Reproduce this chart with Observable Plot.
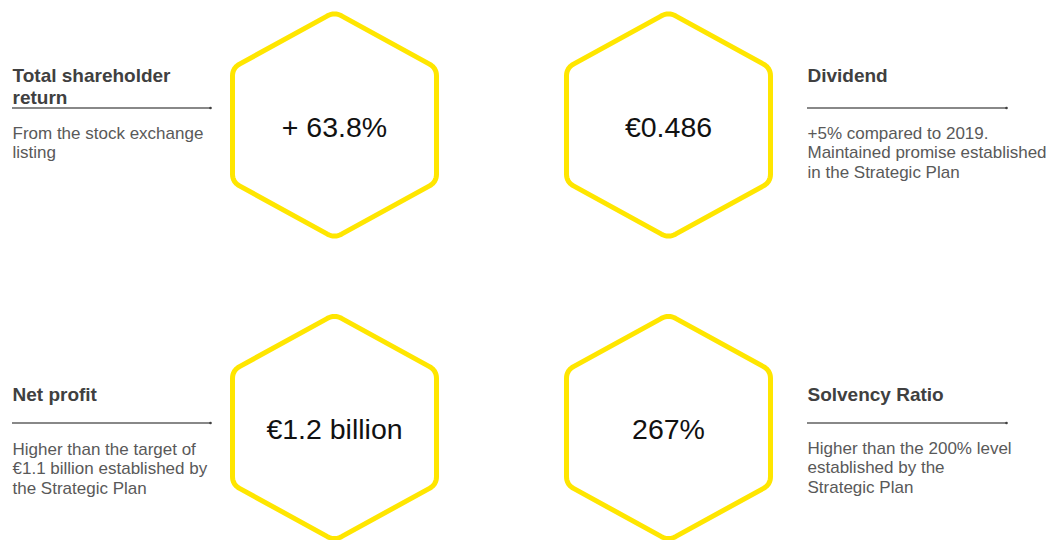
<!DOCTYPE html>
<html>
<head>
<meta charset="utf-8">
<script src="https://cdn.jsdelivr.net/npm/d3@7"></script>
<script src="https://cdn.jsdelivr.net/npm/@observablehq/plot@0.6"></script>
<style>
  html, body { margin: 0; padding: 0; background: #fff; }
  #chart svg { display: block; }
</style>
</head>
<body>
<div id="chart"></div>
<script>
// ---- data ----
const titles = ["Total shareholder\nreturn", "Dividend", "Net profit", "Solvency Ratio"];
const values = ["+ 63.8%", "€0.486", "€1.2 billion", "267%"];
const notes = [
  "From the stock exchange\nlisting",
  "+5% compared to 2019.\nMaintained promise established\nin the Strategic Plan",
  "Higher than the target of\n€1.1 billion established by\nthe Strategic Plan",
  "Higher than the 200% level\nestablished by the\nStrategic Plan"
];

// ---- layout (pixels) ----
const W = 1048, H = 540;
const hexCx = [334, 668, 334, 668];
const hexCy = [124.5, 124.5, 427, 427];
const hexHalfW = 102, hexHalfH = 113, hexHalfSide = 57, cornerR = 8;
const textX = [12, 807, 12, 807];
const ruleX2 = [210, 1006, 210, 1006];
const titleBase = [81, 81, 400, 400];
const ruleYs = [107.5, 107.5, 422.5, 422.5];
const noteBase = [138, 138, 454, 453];
const valueDy = 11.5;
const titleSize = 19, noteSize = 17, valueSize = 28.5;
const titleLH = 22.5, noteLH = 19.8;

const yellow = "#FFE600";
const font = "Arial, 'Liberation Sans', sans-serif";

// rounded hexagon outlines
function hexPoints(cx, cy, k) {
  const v = [
    [cx, cy - hexHalfH], [cx + hexHalfW, cy - hexHalfSide], [cx + hexHalfW, cy + hexHalfSide],
    [cx, cy + hexHalfH], [cx - hexHalfW, cy + hexHalfSide], [cx - hexHalfW, cy - hexHalfSide]
  ];
  const pts = [];
  const n = v.length;
  for (let i = 0; i < n; i++) {
    const P = v[(i + n - 1) % n], V = v[i], N = v[(i + 1) % n];
    const lp = Math.hypot(P[0] - V[0], P[1] - V[1]);
    const ln = Math.hypot(N[0] - V[0], N[1] - V[1]);
    const A = [V[0] + (P[0] - V[0]) * cornerR / lp, V[1] + (P[1] - V[1]) * cornerR / lp];
    const B = [V[0] + (N[0] - V[0]) * cornerR / ln, V[1] + (N[1] - V[1]) * cornerR / ln];
    for (let s = 0; s <= 8; s++) {
      const t = s / 8;
      const x = (1 - t) * (1 - t) * A[0] + 2 * (1 - t) * t * V[0] + t * t * B[0];
      const y = (1 - t) * (1 - t) * A[1] + 2 * (1 - t) * t * V[1] + t * t * B[1];
      pts.push({x, y, k});
    }
  }
  pts.push({...pts[0]});
  return pts;
}
const hexData = values.flatMap((_, i) => hexPoints(hexCx[i], hexCy[i], i));

const titleLines = titles.flatMap((t, i) => t.split("\n").map((s, j) => ({s, x: textX[i], y: titleBase[i] + j * titleLH})));
const noteLines = notes.flatMap((t, i) => t.split("\n").map((s, j) => ({s, x: textX[i], y: noteBase[i] + j * noteLH})));
const valueData = values.map((s, i) => ({s, x: hexCx[i], y: hexCy[i] + valueDy}));
const ruleData = titles.map((_, i) => ({x1: textX[i], x2: ruleX2[i], y: ruleYs[i]}));

const chart = Plot.plot({
  width: W,
  height: H,
  margin: 0,
  style: {fontFamily: font, background: "#fff"},
  x: {type: "identity", axis: null},
  y: {type: "identity", axis: null},
  marks: [
    Plot.line(hexData, {x: "x", y: "y", z: "k", stroke: yellow, strokeWidth: 5, strokeLinejoin: "round", curve: "linear"}),
    Plot.ruleY(ruleData, {x1: "x1", x2: "x2", y: "y", stroke: "#606060", strokeWidth: 1.3}),
    Plot.dot(ruleData, {x: "x2", y: "y", r: 1.3, fill: "#404040", stroke: null}),
    Plot.text(titleLines, {x: "x", y: "y", text: "s", textAnchor: "start", lineAnchor: "bottom", fontSize: titleSize, fontWeight: "bold", fill: "#404040"}),
    Plot.text(noteLines, {x: "x", y: "y", text: "s", textAnchor: "start", lineAnchor: "bottom", fontSize: noteSize, fill: "#595959"}),
    Plot.text(valueData, {x: "x", y: "y", text: "s", textAnchor: "middle", lineAnchor: "bottom", fontSize: valueSize, fill: "#111"})
  ]
});
document.getElementById("chart").appendChild(chart);
</script>
</body>
</html>
